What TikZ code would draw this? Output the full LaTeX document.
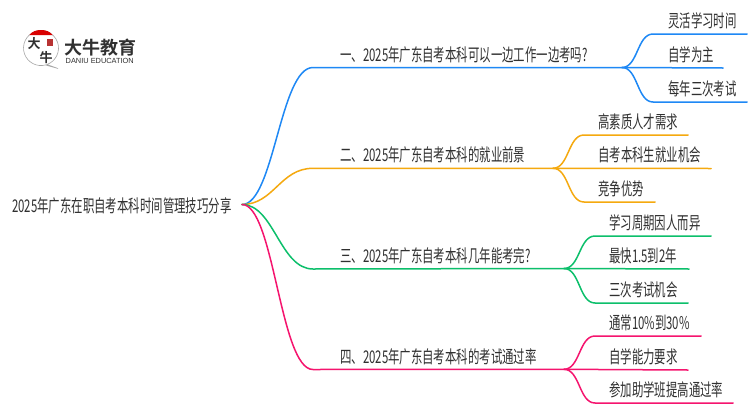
\documentclass[tikz,border=0pt]{standalone}
\usepackage{fontspec}
\newfontfamily\cjk[FakeStretch=0.652]{Noto Sans CJK SC}
\newfontfamily\cjkb[FakeStretch=1.0]{Noto Sans CJK SC Bold}
\setmainfont{Liberation Sans}
\definecolor{cblue}{HTML}{1E88F5}
\definecolor{cor}{HTML}{F5A90F}
\definecolor{cgr}{HTML}{0CBF6B}
\definecolor{cpk}{HTML}{F5146E}
\definecolor{ctx}{HTML}{303030}
\tikzset{
 lbl/.style={inner sep=0pt,anchor=base west,text=ctx,font=\cjk\fontsize{17.5}{17.5}\selectfont},
 conn/.style={line width=1.5pt,line cap=round},
 logotext/.style={inner sep=0pt,text=ctx,font=\cjkb\fontsize{13}{13}\selectfont},
}
\begin{document}
\begin{tikzpicture}[x=1pt,y=-1pt]
\useasboundingbox (0,0) rectangle (750,410);
\fill[white] (0,0) rectangle (750,410);
% logo
\draw[black!35,line width=.6pt,fill=white] (47,64.5) arc[start angle=70,end angle=-285,radius=17.5] -- (58,68.5) -- cycle;
\fill[red!85!black] (29.5,35) .. controls (32,31.5) and (36,30) .. (41,30) .. controls (46,30) and (50,31.5) .. (52.5,35) -- cycle;
\fill[red!65!black!80] (47,38.5) rectangle (53,46);
\node[logotext] (lg1) at (34,43.5) {大};
\node[logotext] (lg2) at (46,58) {牛};
\node[logotext,font=\cjkb\fontsize{18}{18}\selectfont,anchor=west] (lg3) at (64.5,47.5) {大牛教育};
\node[inner sep=0pt,text=ctx,font=\fontsize{7.4}{7.4}\selectfont,anchor=west] (lg4) at (65.5,60.5) {DANIU EDUCATION};
% anchors
\coordinate (root) at (242,204.5);
\coordinate (a1) at (313,67.5); \coordinate (a) at (622,67.5);
\coordinate (b1) at (313,168.3); \coordinate (b) at (553,168.3);
\coordinate (c1) at (313,269); \coordinate (c) at (564,268.5);
\coordinate (d1) at (313,369.5); \coordinate (d) at (564,369.3);
\node[lbl] (rootT) at (12,212) {2025年广东在职自考本科时间管理技巧分享};
\node[lbl] (at) at (340,61) {一、2025年广东自考本科可以一边工作一边考吗?};
\node[lbl] (bt) at (340,161) {二、2025年广东自考本科的就业前景};
\node[lbl] (ct) at (340,262) {三、2025年广东自考本科几年能考完?};
\node[lbl] (dt) at (340,363) {四、2025年广东自考本科的考试通过率};
\node[lbl] (a1t) at (668,27.5) {灵活学习时间};
\node[lbl] (a2t) at (668,61) {自学为主};
\node[lbl] (a3t) at (668,95) {每年三次考试};
\node[lbl] (b1t) at (598,128) {高素质人才需求};
\node[lbl] (b2t) at (598,161) {自考本科生就业机会};
\node[lbl] (b3t) at (598,195) {竞争优势};
\node[lbl] (c1t) at (609,229) {学习周期因人而异};
\node[lbl] (c2t) at (609,262) {最快1.5到2年};
\node[lbl] (c3t) at (609,296) {三次考试机会};
\node[lbl] (d1t) at (609,329) {通常10\%到30\%};
\node[lbl] (d2t) at (609,363) {自学能力要求};
\node[lbl] (d3t) at (609,396) {参加助学班提高通过率};
% main connectors
\draw[conn,cblue] (root) .. controls (274,204.5) and (280,67.5) .. (a1) -- (a);
\draw[conn,cor] (root) .. controls (274,204.5) and (280,168.3) .. (b1) -- (b);
\draw[conn,cgr] (root) .. controls (274,204.5) and (280,269) .. (c1) -- (c);
\draw[conn,cpk] (root) .. controls (274,204.5) and (280,369.5) .. (d1) -- (d);
% sub
\coordinate (a1e) at (747,34); \coordinate (a2e) at (723,68); \coordinate (a3e) at (747,102);
\coordinate (b1e) at (688,135); \coordinate (b2e) at (711,168.5); \coordinate (b3e) at (655,202);
\coordinate (c1e) at (711,236); \coordinate (c2e) at (689,269); \coordinate (c3e) at (688,303);
\coordinate (d1e) at (701,336); \coordinate (d2e) at (688,370); \coordinate (d3e) at (733,403);
\draw[conn,cblue] (a) .. controls (638,67.5) and (637,34) .. (653,34) -- (a1e);
\draw[conn,cblue] (a) -- (a2e);
\draw[conn,cblue] (a) .. controls (638,67.5) and (637,102) .. (653,102) -- (a3e);
\draw[conn,cor] (b) .. controls (569,168.3) and (568,135) .. (584,135) -- (b1e);
\draw[conn,cor] (b) -- (b2e);
\draw[conn,cor] (b) .. controls (569,168.3) and (568,202) .. (584,202) -- (b3e);
\draw[conn,cgr] (c) .. controls (580,268.5) and (579,236) .. (595,236) -- (c1e);
\draw[conn,cgr] (c) -- (c2e);
\draw[conn,cgr] (c) .. controls (580,268.5) and (579,303) .. (595,303) -- (c3e);
\draw[conn,cpk] (d) .. controls (580,369.3) and (579,336) .. (595,336) -- (d1e);
\draw[conn,cpk] (d) -- (d2e);
\draw[conn,cpk] (d) .. controls (580,369.3) and (579,403) .. (595,403) -- (d3e);
\end{tikzpicture}
\end{document}
